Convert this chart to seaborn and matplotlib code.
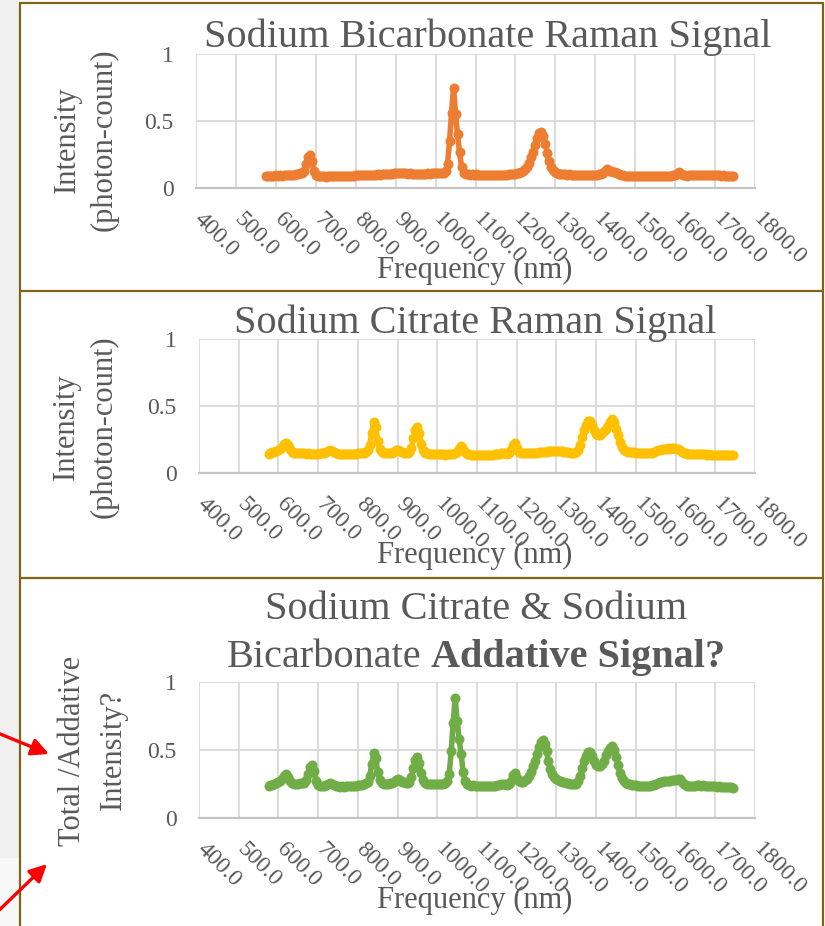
import numpy as np
import pandas as pd
import matplotlib
matplotlib.use("Agg")
import matplotlib.pyplot as plt
import seaborn as sns
from matplotlib.patches import Rectangle, FancyArrowPatch
from matplotlib.lines import Line2D
from matplotlib.transforms import ScaledTranslation

# ---------------- data ----------------
# Raman shift sampling grid (every 5 units, 575 ... 1745)
freq = np.arange(575, 1750, 5)

bicarbonate = [
    0.090, 0.092, 0.090, 0.093, 0.091, 0.094, 0.092, 0.095, 0.093, 0.096,   # 575-620
    0.094, 0.096, 0.095, 0.098, 0.100, 0.102, 0.105, 0.110, 0.110, 0.130,   # 625-670
    0.180, 0.230, 0.245, 0.200, 0.130, 0.100, 0.090, 0.088, 0.086, 0.087,   # 675-720
    0.085, 0.087, 0.086, 0.088, 0.087, 0.089, 0.088, 0.090, 0.089, 0.091,   # 725-770
    0.090, 0.092, 0.091, 0.093, 0.092, 0.094, 0.095, 0.094, 0.096, 0.097,   # 775-820
    0.096, 0.098, 0.097, 0.099, 0.100, 0.099, 0.101, 0.100, 0.102, 0.103,   # 825-870
    0.104, 0.106, 0.108, 0.107, 0.110, 0.112, 0.110, 0.113, 0.111, 0.112,   # 875-920
    0.110, 0.108, 0.110, 0.107, 0.106, 0.108, 0.105, 0.107, 0.106, 0.108,   # 925-970
    0.107, 0.109, 0.108, 0.110, 0.109, 0.112, 0.110, 0.113, 0.112, 0.115,   # 975-1020
    0.130, 0.180, 0.350, 0.560, 0.750, 0.550, 0.400, 0.270, 0.160, 0.115,   # 1025-1070
    0.105, 0.103, 0.100, 0.102, 0.100, 0.101, 0.099, 0.100, 0.098, 0.100,   # 1075-1120
    0.099, 0.100, 0.098, 0.099, 0.097, 0.098, 0.097, 0.099, 0.098, 0.100,   # 1125-1170
    0.099, 0.100, 0.101, 0.103, 0.105, 0.106, 0.110, 0.115, 0.120, 0.130,   # 1175-1220
    0.140, 0.160, 0.190, 0.230, 0.270, 0.320, 0.370, 0.410, 0.420, 0.390,   # 1225-1270
    0.330, 0.260, 0.200, 0.160, 0.135, 0.120, 0.112, 0.108, 0.105, 0.103,   # 1275-1320
    0.102, 0.100, 0.101, 0.099, 0.100, 0.098, 0.099, 0.097, 0.098, 0.099,   # 1325-1370
    0.098, 0.099, 0.097, 0.098, 0.100, 0.099, 0.100, 0.102, 0.105, 0.110,   # 1375-1420
    0.130, 0.140, 0.130, 0.125, 0.120, 0.118, 0.110, 0.103, 0.098, 0.095,   # 1425-1470
    0.093, 0.092, 0.090, 0.091, 0.089, 0.090, 0.088, 0.089, 0.090, 0.088,   # 1475-1520
    0.089, 0.087, 0.088, 0.089, 0.087, 0.088, 0.090, 0.089, 0.088, 0.090,   # 1525-1570
    0.089, 0.090, 0.091, 0.092, 0.094, 0.097, 0.108, 0.120, 0.105, 0.097,   # 1575-1620
    0.094, 0.093, 0.094, 0.095, 0.096, 0.097, 0.098, 0.100, 0.099, 0.100,   # 1625-1670
    0.098, 0.097, 0.096, 0.097, 0.095, 0.096, 0.094, 0.095, 0.093, 0.094,   # 1675-1720
    0.092, 0.093, 0.091, 0.092, 0.090,                                      # 1725-1745
]

citrate = [
    0.145, 0.150, 0.155, 0.160, 0.165, 0.170, 0.180, 0.195, 0.215, 0.225,   # 575-620
    0.210, 0.180, 0.160, 0.150, 0.148, 0.147, 0.148, 0.146, 0.147, 0.145,   # 625-670
    0.146, 0.144, 0.145, 0.143, 0.144, 0.145, 0.146, 0.148, 0.152, 0.158,   # 675-720
    0.165, 0.170, 0.165, 0.155, 0.148, 0.145, 0.143, 0.142, 0.143, 0.142,   # 725-770
    0.143, 0.142, 0.143, 0.144, 0.145, 0.146, 0.148, 0.150, 0.152, 0.158,   # 775-820
    0.170, 0.210, 0.300, 0.380, 0.340, 0.240, 0.180, 0.155, 0.148, 0.147,   # 825-870
    0.146, 0.148, 0.150, 0.158, 0.168, 0.172, 0.165, 0.155, 0.150, 0.148,   # 875-920
    0.150, 0.160, 0.190, 0.260, 0.320, 0.340, 0.300, 0.220, 0.170, 0.152,   # 925-970
    0.146, 0.143, 0.142, 0.140, 0.141, 0.140, 0.139, 0.140, 0.139, 0.138,   # 975-1020
    0.139, 0.140, 0.140, 0.142, 0.146, 0.158, 0.180, 0.200, 0.180, 0.155,   # 1025-1070
    0.145, 0.140, 0.138, 0.137, 0.136, 0.135, 0.134, 0.135, 0.134, 0.135,   # 1075-1120
    0.134, 0.135, 0.136, 0.137, 0.139, 0.141, 0.145, 0.150, 0.152, 0.148,   # 1125-1170
    0.145, 0.148, 0.170, 0.210, 0.225, 0.190, 0.160, 0.150, 0.148, 0.147,   # 1175-1220
    0.146, 0.147, 0.148, 0.149, 0.150, 0.152, 0.153, 0.155, 0.157, 0.158,   # 1225-1270
    0.160, 0.162, 0.163, 0.165, 0.166, 0.165, 0.166, 0.164, 0.163, 0.160,   # 1275-1320
    0.158, 0.155, 0.152, 0.150, 0.150, 0.155, 0.170, 0.210, 0.270, 0.320,   # 1325-1370
    0.360, 0.385, 0.390, 0.360, 0.320, 0.290, 0.280, 0.280, 0.295, 0.310,   # 1375-1420
    0.330, 0.350, 0.380, 0.400, 0.380, 0.330, 0.280, 0.230, 0.195, 0.175,   # 1425-1470
    0.165, 0.160, 0.157, 0.155, 0.153, 0.152, 0.150, 0.149, 0.148, 0.147,   # 1475-1520
    0.146, 0.147, 0.148, 0.150, 0.155, 0.162, 0.170, 0.175, 0.178, 0.180,   # 1525-1570
    0.182, 0.183, 0.182, 0.184, 0.183, 0.182, 0.178, 0.170, 0.160, 0.152,   # 1575-1620
    0.148, 0.145, 0.143, 0.142, 0.141, 0.140, 0.141, 0.140, 0.139, 0.140,   # 1625-1670
    0.139, 0.138, 0.139, 0.137, 0.138, 0.137, 0.136, 0.137, 0.136, 0.135,   # 1675-1720
    0.136, 0.135, 0.134, 0.135, 0.134,                                      # 1725-1745
]

total = [
    0.235, 0.242, 0.245, 0.253, 0.256, 0.264, 0.272, 0.290, 0.308, 0.320,   # 575-620
    0.300, 0.275, 0.256, 0.250, 0.248, 0.250, 0.254, 0.257, 0.258, 0.276,   # 625-670
    0.325, 0.372, 0.390, 0.345, 0.275, 0.245, 0.236, 0.235, 0.238, 0.246,   # 675-720
    0.250, 0.258, 0.252, 0.243, 0.236, 0.233, 0.231, 0.232, 0.231, 0.233,   # 725-770
    0.233, 0.235, 0.234, 0.237, 0.238, 0.240, 0.243, 0.245, 0.248, 0.255,   # 775-820
    0.266, 0.310, 0.395, 0.475, 0.440, 0.340, 0.280, 0.256, 0.250, 0.250,   # 825-870
    0.250, 0.254, 0.258, 0.266, 0.278, 0.284, 0.276, 0.268, 0.262, 0.260,   # 875-920
    0.260, 0.268, 0.300, 0.367, 0.425, 0.445, 0.405, 0.328, 0.276, 0.260,   # 925-970
    0.253, 0.252, 0.250, 0.251, 0.249, 0.252, 0.249, 0.253, 0.251, 0.254,   # 975-1020
    0.270, 0.320, 0.490, 0.700, 0.885, 0.710, 0.580, 0.470, 0.340, 0.270,   # 1025-1070
    0.250, 0.243, 0.238, 0.239, 0.236, 0.236, 0.233, 0.235, 0.232, 0.235,   # 1075-1120
    0.233, 0.235, 0.234, 0.236, 0.236, 0.239, 0.242, 0.249, 0.250, 0.248,   # 1125-1170
    0.244, 0.248, 0.270, 0.313, 0.330, 0.296, 0.270, 0.265, 0.268, 0.277,   # 1175-1220
    0.286, 0.307, 0.338, 0.379, 0.420, 0.470, 0.520, 0.560, 0.570, 0.545,   # 1225-1270
    0.490, 0.420, 0.363, 0.325, 0.300, 0.285, 0.278, 0.272, 0.268, 0.263,   # 1275-1320
    0.260, 0.255, 0.253, 0.249, 0.250, 0.253, 0.269, 0.307, 0.368, 0.419,   # 1325-1370
    0.458, 0.484, 0.487, 0.458, 0.420, 0.389, 0.380, 0.382, 0.400, 0.420,   # 1375-1420
    0.460, 0.490, 0.515, 0.530, 0.500, 0.448, 0.390, 0.333, 0.293, 0.270,   # 1425-1470
    0.258, 0.252, 0.247, 0.246, 0.242, 0.242, 0.238, 0.238, 0.238, 0.235,   # 1475-1520
    0.235, 0.234, 0.236, 0.239, 0.242, 0.250, 0.260, 0.264, 0.266, 0.270,   # 1525-1570
    0.271, 0.273, 0.273, 0.278, 0.277, 0.279, 0.286, 0.290, 0.265, 0.249,   # 1575-1620
    0.242, 0.238, 0.237, 0.237, 0.237, 0.237, 0.239, 0.240, 0.238, 0.240,   # 1625-1670
    0.237, 0.235, 0.235, 0.234, 0.233, 0.233, 0.230, 0.232, 0.229, 0.229,   # 1675-1720
    0.228, 0.228, 0.225, 0.227, 0.224,                                      # 1725-1745
]

x_ticks = [400, 500, 600, 700, 800, 900, 1000, 1100, 1200, 1300, 1400, 1500, 1600, 1700, 1800]
x_tick_labels = ["400.0", "500.0", "600.0", "700.0", "800.0", "900.0", "1000.0", "1100.0",
                 "1200.0", "1300.0", "1400.0", "1500.0", "1600.0", "1700.0", "1800.0"]
y_ticks = [0, 0.5, 1]
y_tick_labels = ["0", "0.5", "1"]

titles = ["Sodium Bicarbonate Raman Signal", "Sodium Citrate Raman Signal"]
title3_line1 = "Sodium Citrate & Sodium"
title3_line2_regular = "Bicarbonate"
title3_line2_bold = "Addative Signal?"
xlabel = "Frequency (nm)"
ylabels = [("Intensity", "(photon-count)"), ("Intensity", "(photon-count)"),
           ("Total /Addative", "Intensity?")]
colors = ["#ED7D31", "#FFC000", "#70AD47"]

# ---------------- styling ----------------
sns.set_theme(style="white")
plt.rcParams["font.family"] = ["Liberation Serif", "DejaVu Serif"]
TXT = "#595959"
BORDER = "#806416"

W, H = 825, 926
fig = plt.figure(figsize=(W / 100, H / 100), dpi=100, facecolor="white")


def fx(x):
    return x / W


def fy(y):
    return 1 - y / H


# slide background strip on the left
fig.patches.append(Rectangle((0, 0), fx(20), 1, transform=fig.transFigure,
                             facecolor="#f0f0f0", edgecolor="none", zorder=0))
fig.patches.append(Rectangle((0, 0), fx(20), (H - 858) / H, transform=fig.transFigure,
                             facecolor="#f8f8f8", edgecolor="none", zorder=0))

# panel borders
blw = 1.6
for (xa, ya, xb, yb) in [(20, 3, 823, 3), (20, 291, 823, 291), (20, 578, 823, 578),
                         (20, 3, 20, 926), (823, 3, 823, 926)]:
    fig.add_artist(Line2D([fx(xa), fx(xb)], [fy(ya), fy(yb)], transform=fig.transFigure,
                          color=BORDER, lw=blw, zorder=5))

# axes rectangles in pixel coordinates: (left, right, top, bottom)
boxes = [(196, 755, 54, 188), (199, 755, 339, 473), (199, 755, 682, 818)]
series = [bicarbonate, citrate, total]

for i, ((l, r, t, b), vals, col) in enumerate(zip(boxes, series, colors)):
    ax = fig.add_axes([fx(l), fy(b), (r - l) / W, (b - t) / H])
    df = pd.DataFrame({"freq": freq, "intensity": vals})
    sns.lineplot(data=df, x="freq", y="intensity", ax=ax, color=col, marker="o",
                 markersize=7.2, markeredgewidth=0, linewidth=4.0, estimator=None,
                 zorder=3)
    ax.set_xlim(400, 1800)
    ax.set_ylim(0, 1)
    ax.set_xticks(x_ticks)
    ax.set_xticklabels(x_tick_labels)
    ax.set_yticks(y_ticks)
    ax.set_yticklabels(y_tick_labels)
    ax.set_xlabel("")
    ax.set_ylabel("")
    ax.grid(True, color="#d9d9d9", lw=1.3)
    ax.set_axisbelow(True)
    for s in ["top", "right", "left"]:
        ax.spines[s].set_visible(False)
    ax.spines["bottom"].set_color("#c4c4c4")
    ax.spines["bottom"].set_linewidth(1.6)
    ax.tick_params(axis="both", length=0, labelsize=17, labelcolor=TXT)
    ax.tick_params(axis="y", pad=16)
    ax.tick_params(axis="x", pad=15)
    offset = ScaledTranslation(9 / 100, 0, fig.dpi_scale_trans)
    for lab in ax.get_xticklabels():
        lab.set_rotation(-45)
        lab.set_rotation_mode("anchor")
        lab.set_ha("left")
        lab.set_va("top")
        lab.set_transform(lab.get_transform() + offset)
    ax.set_facecolor("white")

    # x axis title
    fig.text(fx(475), fy(b + 90), xlabel, ha="center", va="baseline",
             fontsize=22, color=TXT)

# y axis titles (two lines each)
ylab_pos = [((67, 140), (104, 140)), ((66, 427), (104, 427)), ((73, 751), (113, 750))]
for (l1, l2), ((x1, y1), (x2, y2)) in zip(ylabels, ylab_pos):
    fig.text(fx(x1), fy(y1), l1, rotation=90, ha="center", va="center",
             fontsize=22, color=TXT)
    fig.text(fx(x2), fy(y2), l2, rotation=90, ha="center", va="center",
             fontsize=22, color=TXT)

# chart titles
TS = 29
fig.text(fx(488), fy(47), titles[0], ha="center", va="baseline", fontsize=TS, color=TXT)
fig.text(fx(475), fy(333), titles[1], ha="center", va="baseline", fontsize=TS, color=TXT)
fig.text(fx(476), fy(619), title3_line1, ha="center", va="baseline", fontsize=TS, color=TXT)

renderer = fig.canvas.get_renderer()
t_reg = fig.text(0, fy(667), title3_line2_regular, ha="left", va="baseline",
                 fontsize=TS, color=TXT)
t_bold = fig.text(0, fy(667), title3_line2_bold, ha="left", va="baseline",
                  fontsize=TS, color=TXT, fontweight="bold")
w_reg = t_reg.get_window_extent(renderer).width
w_bold = t_bold.get_window_extent(renderer).width
space = 0.25 * TS * 100 / 72
start = 476 - (w_reg + space + w_bold) / 2
t_reg.set_x(fx(start))
t_bold.set_x(fx(start + w_reg + space))

# red arrows on the left
for (xa, ya, xb, yb) in [(-12, 729, 49, 754), (-10, 919, 47, 864)]:
    fig.add_artist(FancyArrowPatch((fx(xa), fy(ya)), (fx(xb), fy(yb)),
                                   transform=fig.transFigure, arrowstyle="-|>",
                                   mutation_scale=26, color="#ff0000", lw=2.4,
                                   shrinkA=0, shrinkB=0, zorder=6))

fig.savefig("out.png", dpi=100, facecolor=fig.get_facecolor())
